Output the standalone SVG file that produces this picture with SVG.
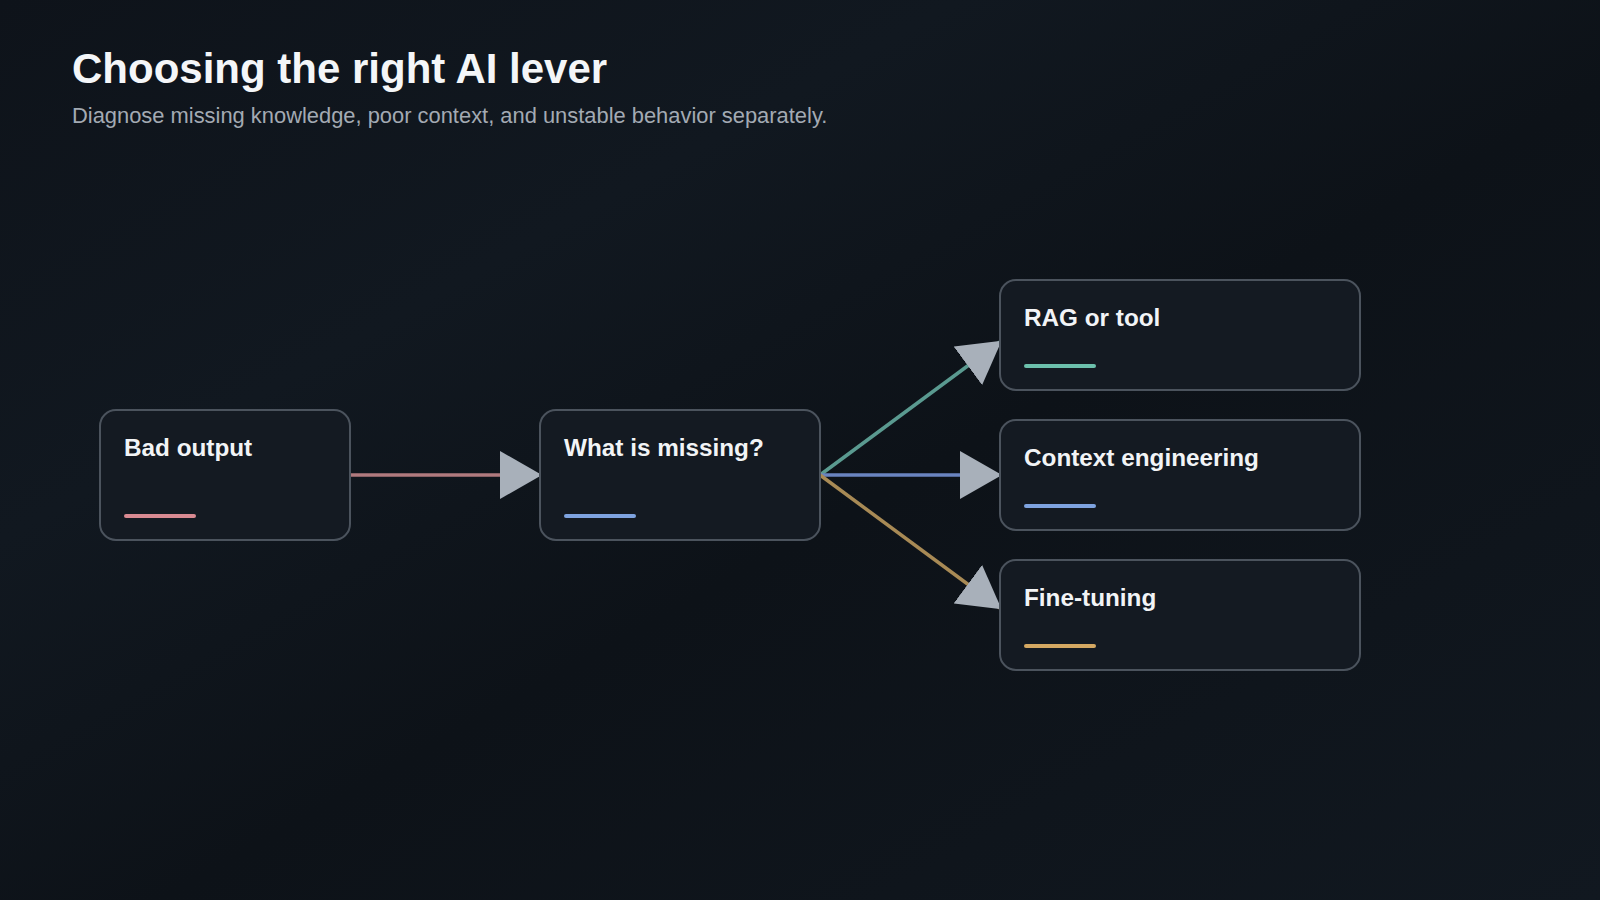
<svg xmlns="http://www.w3.org/2000/svg" width="1600" height="900" viewBox="0 0 1600 900">
<defs>
<linearGradient id="bg" x1="0" y1="0" x2="1" y2="1">
<stop offset="0" stop-color="#0e131a"/><stop offset="0.3" stop-color="#111820"/><stop offset="0.55" stop-color="#0d1218"/><stop offset="1" stop-color="#111820"/>
</linearGradient>
<marker id="ah" markerUnits="userSpaceOnUse" markerWidth="42" markerHeight="48" refX="40" refY="24" orient="auto">
<path d="M0,0 L42,24 L0,48 Z" fill="#a8b0ba"/>
</marker>
<style>
.box{fill:#141a22;stroke:#4b535d;stroke-width:2}
.lbl{font-family:"Liberation Sans",Arial,sans-serif;font-weight:bold;font-size:24.3px;fill:#f2f4f6}
.bar{stroke-width:4;stroke-linecap:round}
.edge{fill:none;stroke-width:3.5}
</style>
</defs>
<rect width="1600" height="900" fill="url(#bg)"/>
<text x="72" y="83" font-family="Liberation Sans,Arial,sans-serif" font-weight="bold" font-size="42" fill="#f4f6f8">Choosing the right AI lever</text>
<text x="72" y="123" font-family="Liberation Sans,Arial,sans-serif" font-size="21.9" fill="#a3aab3">Diagnose missing knowledge, poor context, and unstable behavior separately.</text>
<g id="connectors">
<line class="edge" x1="350" y1="475" x2="540" y2="475" stroke="#b07a7e" marker-end="url(#ah)"/>
<line class="edge" x1="820" y1="475" x2="1000" y2="342" stroke="#5a9a90" marker-end="url(#ah)"/>
<line class="edge" x1="820" y1="475" x2="1000" y2="475" stroke="#6a84c0" marker-end="url(#ah)"/>
<line class="edge" x1="820" y1="475" x2="1000" y2="608" stroke="#a88a55" marker-end="url(#ah)"/>
</g>
<g id="bad">
<rect class="box" x="100" y="410" width="250" height="130" rx="16"/>
<text class="lbl" x="124" y="456">Bad output</text>
<line class="bar" x1="126" y1="516" x2="194" y2="516" stroke="#d98a92"/>
</g>
<g id="missing">
<rect class="box" x="540" y="410" width="280" height="130" rx="16"/>
<text class="lbl" x="564" y="456">What is missing?</text>
<line class="bar" x1="566" y1="516" x2="634" y2="516" stroke="#7ea3e0"/>
</g>
<g id="rag">
<rect class="box" x="1000" y="280" width="360" height="110" rx="16"/>
<text class="lbl" x="1024" y="326">RAG or tool</text>
<line class="bar" x1="1026" y1="366" x2="1094" y2="366" stroke="#6cc0ac"/>
</g>
<g id="context">
<rect class="box" x="1000" y="420" width="360" height="110" rx="16"/>
<text class="lbl" x="1024" y="466">Context engineering</text>
<line class="bar" x1="1026" y1="506" x2="1094" y2="506" stroke="#7ea3e0"/>
</g>
<g id="finetune">
<rect class="box" x="1000" y="560" width="360" height="110" rx="16"/>
<text class="lbl" x="1024" y="606">Fine-tuning</text>
<line class="bar" x1="1026" y1="646" x2="1094" y2="646" stroke="#d4a862"/>
</g>
</svg>
